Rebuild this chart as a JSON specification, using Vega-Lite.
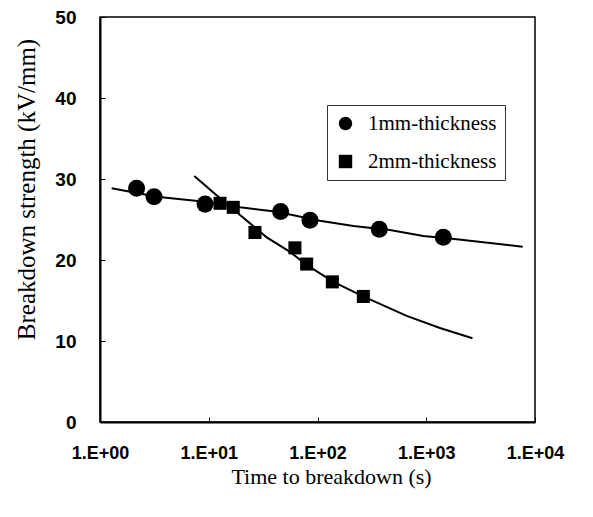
{
  "$schema": "https://vega.github.io/schema/vega-lite/v6.json",
  "autosize": {"type": "none"},
  "width": 435,
  "height": 405,
  "padding": {"left": 100, "top": 17, "right": 58, "bottom": 95},
  "background": "white",
  "config": {
    "view": {"stroke": "black", "strokeWidth": 1.5},
    "axis": {"grid": false, "domainColor": "black", "domainWidth": 2, "tickColor": "black", "labelColor": "black", "titleColor": "black"}
  },
  "datasets": {
    "pts": [
      {"series": "1mm-thickness", "t": 2.17, "v": 28.85},
      {"series": "1mm-thickness", "t": 3.14, "v": 27.8},
      {"series": "1mm-thickness", "t": 9.25, "v": 26.9},
      {"series": "1mm-thickness", "t": 45.8, "v": 26.0},
      {"series": "1mm-thickness", "t": 85.3, "v": 24.9},
      {"series": "1mm-thickness", "t": 370, "v": 23.8},
      {"series": "1mm-thickness", "t": 1435, "v": 22.8},
      {"series": "2mm-thickness", "t": 12.7, "v": 27.0},
      {"series": "2mm-thickness", "t": 16.8, "v": 26.5},
      {"series": "2mm-thickness", "t": 26.6, "v": 23.4},
      {"series": "2mm-thickness", "t": 62, "v": 21.5},
      {"series": "2mm-thickness", "t": 79.5, "v": 19.5},
      {"series": "2mm-thickness", "t": 137, "v": 17.3},
      {"series": "2mm-thickness", "t": 264, "v": 15.5}
    ],
    "fit": [
      {"series": "1mm-thickness", "t": 1.28, "v": 28.85},
      {"series": "1mm-thickness", "t": 3.32, "v": 27.8},
      {"series": "1mm-thickness", "t": 9.24, "v": 27.2},
      {"series": "1mm-thickness", "t": 19.4, "v": 26.5},
      {"series": "1mm-thickness", "t": 42.2, "v": 25.96},
      {"series": "1mm-thickness", "t": 105, "v": 24.85},
      {"series": "1mm-thickness", "t": 214, "v": 24.2},
      {"series": "1mm-thickness", "t": 464, "v": 23.7},
      {"series": "1mm-thickness", "t": 940, "v": 22.96},
      {"series": "1mm-thickness", "t": 1905, "v": 22.55},
      {"series": "1mm-thickness", "t": 7710, "v": 21.64},
      {"series": "2mm-thickness", "t": 7.36, "v": 30.37},
      {"series": "2mm-thickness", "t": 11.8, "v": 28.0},
      {"series": "2mm-thickness", "t": 19.4, "v": 25.55},
      {"series": "2mm-thickness", "t": 34.1, "v": 22.8},
      {"series": "2mm-thickness", "t": 55.9, "v": 21.0},
      {"series": "2mm-thickness", "t": 79.4, "v": 19.4},
      {"series": "2mm-thickness", "t": 140, "v": 17.3},
      {"series": "2mm-thickness", "t": 263, "v": 15.5},
      {"series": "2mm-thickness", "t": 661, "v": 13.1},
      {"series": "2mm-thickness", "t": 1337, "v": 11.6},
      {"series": "2mm-thickness", "t": 2660, "v": 10.33}
    ]
  },
  "encoding": {
    "x": {
      "field": "t", "type": "quantitative",
      "scale": {"type": "log", "domain": [1, 10000], "nice": false},
      "axis": {
        "title": "Time to breakdown (s)",
        "values": [1, 10, 100, 1000, 10000],
        "labelExpr": "'1.E+0' + round(log(datum.value)/LN10)",
        "labelFont": "Liberation Sans", "labelFontSize": 18, "labelFontWeight": "bold",
        "labelPadding": 27, "tickSize": -5, "labelFlush": false, "labelOverlap": false,
        "titleFont": "Liberation Serif", "titleFontSize": 22, "titleFontWeight": "normal",
        "titleX": 231, "titleY": 54, "titleBaseline": "middle", "titleAnchor": null
      }
    },
    "y": {
      "field": "v", "type": "quantitative",
      "scale": {"domain": [0, 50], "nice": false},
      "axis": {
        "title": "Breakdown strength (kV/mm)",
        "values": [0, 10, 20, 30, 40, 50],
        "labelFont": "Liberation Sans", "labelFontSize": 19, "labelFontWeight": "bold",
        "labelPadding": 29, "tickSize": -5, "labelFlush": false,
        "titleFont": "Liberation Serif", "titleFontSize": 25, "titleFontWeight": "normal",
        "titleX": -74, "titleY": 172, "titleBaseline": "middle", "titleAlign": "center", "titleAngle": -90
      }
    },
    "shape": {
      "field": "series", "type": "nominal",
      "scale": {"domain": ["1mm-thickness", "2mm-thickness"], "range": ["circle", "square"]},
      "legend": {
        "title": null, "orient": "none", "legendX": 227, "legendY": 88,
        "padding": 8, "strokeColor": "#333", "fillColor": "white",
        "labelFont": "Liberation Serif", "labelFontSize": 21, "labelColor": "black",
        "symbolSize": 180, "symbolFillColor": "black", "symbolStrokeColor": "black",
        "rowPadding": 16, "labelOffset": 12, "labelLimit": 300
      }
    }
  },
  "layer": [
    {
      "data": {"name": "fit"},
      "mark": {"type": "line", "color": "black", "strokeWidth": 2},
      "encoding": {"detail": {"field": "series"}, "shape": null}
    },
    {
      "data": {"name": "pts"},
      "transform": [{"filter": "datum.series === '1mm-thickness'"}],
      "mark": {"type": "point", "filled": true, "opacity": 1, "color": "black", "size": 290}
    },
    {
      "data": {"name": "pts"},
      "transform": [{"filter": "datum.series === '2mm-thickness'"}],
      "mark": {"type": "point", "filled": true, "opacity": 1, "color": "black", "size": 170}
    }
  ]
}
